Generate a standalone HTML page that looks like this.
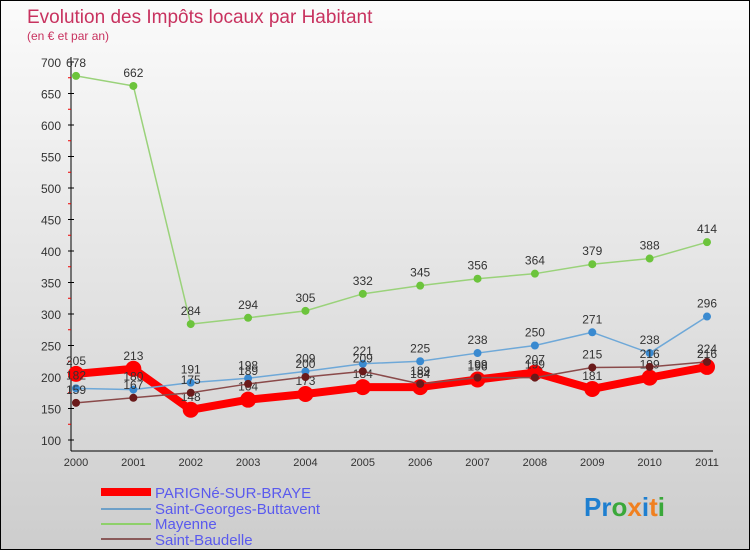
<!DOCTYPE html>
<html><head><meta charset="utf-8"><style>
body{margin:0}
#c{width:750px;height:550px;position:relative;overflow:hidden;box-sizing:border-box;border:1px solid #000;background:linear-gradient(#fbfbfb,#cdcdcd);font-family:"Liberation Sans",sans-serif}
</style></head><body>
<div id="c">
<svg width="750" height="550" style="position:absolute;left:0;top:0" id="s">
<text x="26" y="22" font-size="19" fill="#c8325f">Evolution des Impôts locaux par Habitant</text>
<text x="26" y="39" font-size="12" fill="#c8325f">(en € et par an)</text>
<g id="axes"></g><g id="series"></g>
<g font-size="15" fill="#5a5aee">
<rect x="100" y="487" width="50" height="8" fill="#f00"/>
<text x="154" y="497">PARIGNé-SUR-BRAYE</text>
<rect x="100" y="507" width="50" height="2" fill="#6ea0c8"/>
<text x="154" y="513">Saint-Georges-Buttavent</text>
<rect x="100" y="522" width="50" height="2" fill="#8ed06a"/>
<text x="154" y="528">Mayenne</text>
<rect x="100" y="537" width="50" height="2" fill="#8a5a5a"/>
<text x="154" y="544">Saint-Baudelle</text>
</g>
<g font-size="26" font-weight="bold">
<text x="583" y="515"><tspan fill="#1e7fd0">Pr</tspan><tspan fill="#3aa83a">o</tspan><tspan fill="#f08020">x</tspan><tspan fill="#1e7fd0">i</tspan><tspan fill="#f08020">t</tspan><tspan fill="#3aa83a">i</tspan></text>
</g>
</svg>
</div>
<script>
const years=["2000","2001","2002","2003","2004","2005","2006","2007","2008","2009","2010","2011"];
const yTicks=[100,150,200,250,300,350,400,450,500,550,600,650,700];
const parigne=[205,213,148,164,173,184,184,196,207,181,199,216];
const saintGeorges=[182,180,191,198,209,221,225,238,250,271,238,296];
const mayenne=[678,662,284,294,305,332,345,356,364,379,388,414];
const saintBaudelle=[159,167,175,189,200,209,189,199,199,215,216,224];
const NS="http://www.w3.org/2000/svg";
const X=i=>75+i*(706-75)/11;
const Y=v=>439-(v-100)*(439-61)/600;
function mk(t,a,p){const e=document.createElementNS(NS,t);for(const k in a)e.setAttribute(k,a[k]);p.appendChild(e);return e;}
const ax=document.getElementById('axes');
let l=mk('line',{x1:70,y1:56,x2:70,y2:450,stroke:'#000'},ax);


l=mk('line',{x1:70,y1:450,x2:712,y2:450,stroke:'#000'},ax);


yTicks.forEach(v=>{
 const t=mk('text',{x:60,y:Y(v)+5,'text-anchor':'end','font-size':12,fill:'#333'},ax);t.textContent=v;
 
 
 mk('line',{x1:67,y1:Y(v),x2:73,y2:Y(v),stroke:'#000'},ax);
 if(v<700)mk('line',{x1:67,y1:Y(v+25),x2:70,y2:Y(v+25),stroke:'#e00'},ax);
});
years.forEach((y,i)=>{
 const t=mk('text',{x:X(i),y:465,'text-anchor':'middle','font-size':11,fill:'#333'},ax);t.textContent=y;
 
 
});
const sg=document.getElementById('series');
function draw(data,name,color,w,r,dot){
 const g=mk('g',{},sg);
 
 
 mk('polyline',{points:data.map((v,i)=>X(i)+','+Y(v)).join(' '),fill:'none',stroke:color,'stroke-width':w,'stroke-linejoin':'round'},g);
 data.forEach((v,i)=>{
  const c=mk('circle',{cx:X(i),cy:Y(v),r:r,fill:dot},g);
  
  
  const t=mk('text',{x:X(i),y:Y(v)-9,'text-anchor':'middle','font-size':12,fill:'#333'},g);t.textContent=v;
  
  
 });
}
draw(parigne,'series-parigne','#f00',8,8,'#f00');
draw(mayenne,'series-mayenne','#9ad27a',1.5,4,'#6cc43c');
draw(saintGeorges,'series-saint-georges','#6ea8d8',1.5,4,'#3a8ad0');
draw(saintBaudelle,'series-saint-baudelle','#8a4a4a',1.5,4,'#6a1a1a');
</script>
</body></html>
